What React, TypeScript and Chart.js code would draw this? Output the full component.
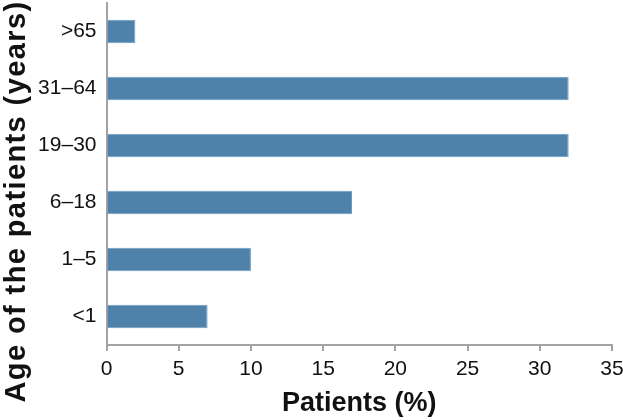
import React, { useEffect, useRef } from "react";
import { Chart, registerables } from "chart.js";

Chart.register(...registerables);

const ageGroups = [">65", "31–64", "19–30", "6–18", "1–5", "<1"];
const patientsPct = [2, 32, 32, 17, 10, 7];
const xMin = 0;
const xMax = 35;
const xStep = 5;
const xTitle = "Patients (%)";
const yTitle = "Age of the patients (years)";

const FONT = "'Liberation Sans', Arial, Helvetica, sans-serif";
const AXIS = "#a3a3a3";

const yTitlePlugin = {
  id: "yTitleStretched",
  afterDraw(chart: any) {
    const ctx = chart.ctx as CanvasRenderingContext2D;
    ctx.save();
    ctx.translate(25, 201.5);
    ctx.rotate(-Math.PI / 2);
    ctx.font = `bold 29px ${FONT}`;
    (ctx as any).letterSpacing = "1.4px";
    ctx.fillStyle = "#111";
    ctx.textAlign = "center";
    ctx.textBaseline = "alphabetic";
    ctx.fillText(yTitle, 0, 0);
    ctx.restore();
  },
};

export default function App() {
  const ref = useRef<HTMLCanvasElement | null>(null);
  useEffect(() => {
    if (!ref.current) return;
    const chart = new Chart(ref.current, {
      type: "bar",
      data: {
        labels: ageGroups,
        datasets: [
          {
            data: patientsPct,
            backgroundColor: "#4f82ab",
            borderColor: "#6f9cc2",
            borderWidth: 1,
            barPercentage: 0.41,
            categoryPercentage: 1,
          },
        ],
      },
      plugins: [yTitlePlugin],
      options: {
        indexAxis: "y",
        animation: false,
        responsive: false,
        maintainAspectRatio: false,
        layout: { padding: { left: 0, top: 3, right: 11, bottom: 0 } },
        plugins: { legend: { display: false }, tooltip: { enabled: false } },
        scales: {
          x: {
            type: "linear",
            min: xMin,
            max: xMax,
            ticks: {
              stepSize: xStep,
              color: "#111",
              padding: 6,
              font: { family: FONT, size: 21 },
            },
            grid: {
              drawOnChartArea: false,
              drawTicks: true,
              tickLength: 6,
              color: AXIS,
              lineWidth: 2,
            },
            border: { color: AXIS, width: 2 },
            title: {
              display: true,
              text: xTitle,
              color: "#111",
              padding: 0,
              font: { family: FONT, size: 27, weight: "bold", lineHeight: 1.2 },
            },
            afterFit: (s: any) => {
              s.height = 75;
              s.paddingLeft = 0;
              s.paddingRight = 0;
            },
          },
          y: {
            type: "category",
            ticks: {
              color: "#111",
              padding: 10,
              font: { family: FONT, size: 21 },
            },
            grid: { drawOnChartArea: false, drawTicks: false },
            border: { color: AXIS, width: 2 },
            title: { display: false, text: yTitle },
            afterFit: (s: any) => {
              s.width = 106.5;
              s.paddingTop = 0;
              s.paddingBottom = 0;
            },
          },
        },
      },
    });
    return () => chart.destroy();
  }, []);
  return (
    <div style={{ position: "absolute", left: 0, top: 0, width: 623, height: 420, background: "#fff" }}>
      <canvas ref={ref} width={623} height={420} style={{ display: "block" }} />
    </div>
  );
}
